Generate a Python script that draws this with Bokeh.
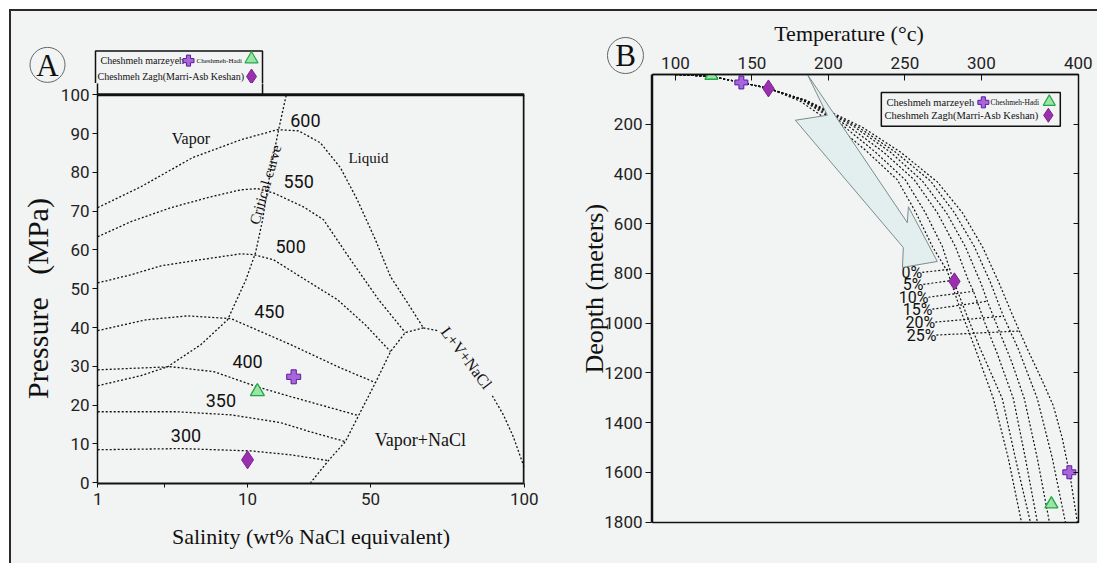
import numpy as np
from bokeh.plotting import figure
from bokeh.layouts import row, column
from bokeh.models import Range1d, FixedTicker, LinearAxis, Span, Spacer
from bokeh.core.properties import value
from bokeh.embed import file_html
from bokeh.resources import INLINE

BG = "#f2f3f3"
INK = "#111111"
SERIF = "Liberation Serif"
SANS = "Roboto"
PLUS_FILL, PLUS_LINE = "#a866dc", "#5b1d99"
TRI_FILL, TRI_LINE = "#9be3a8", "#22a843"
DIA_FILL, DIA_LINE = "#9a2fb0", "#7d2390"

# ---------------- Panel A : pressure vs salinity ----------------
salinity_ticks = [1, 5, 10, 50, 100]
salinity_tick_labels = ["1", "", "10", "50", "100"]
pressure_ticks = [0, 10, 20, 30, 40, 50, 60, 70, 80, 90, 100]

iso300_s = [1.0, 6.0, 11.0, 24.0, 36.3]
iso300_p = [8.5, 8.8, 8.2, 7.2, 5.7]
iso350_s = [1.0, 5.7, 9.0, 20.7, 30.5, 41.8]
iso350_p = [18.3, 18.3, 17.5, 15.5, 13.1, 10.6]
iso400_s = [1.0, 5.4, 8.0, 13.2, 24.0, 46.1]
iso400_p = [29.1, 29.9, 28.6, 24.7, 22.2, 17.3]
iso450_s = [1.0, 3.9, 6.4, 9.0, 24.0, 40.2, 51.6]
iso450_p = [39.2, 42.0, 43.0, 42.3, 35.6, 29.6, 25.8]
iso500_s = [1.0, 3.0, 4.8, 7.2, 9.6, 11.9, 18.4, 28.8, 39.2, 48.3, 56.5]
iso500_p = [51.5, 53.6, 55.9, 57.5, 59.0, 58.8, 57.5, 52.3, 47.2, 40.7, 33.8]
iso550_s = [1.0, 3.0, 5.4, 7.8, 9.6, 13.2, 18.4, 28.2, 34.7, 43.5, 52.6, 61.3]
iso550_p = [63.4, 67.3, 70.9, 73.7, 75.5, 75.8, 74.7, 71.1, 67.8, 57.5, 47.2, 38.7]
iso600_s = [1.0, 3.6, 6.7, 9.6, 19.7, 26.6, 33.7, 40.2, 45.7, 51.6, 56.5, 62.0, 67.2]
iso600_p = [70.9, 76.3, 83.8, 88.4, 91.0, 90.7, 87.6, 81.2, 72.9, 62.6, 53.1, 46.4, 39.9]
critical_s = [1.0, 3.6, 5.2, 7.2, 8.8, 9.9, 12.6, 14.9, 17.5, 20.1, 22.6]
critical_p = [25.0, 27.6, 29.9, 35.6, 42.0, 52.3, 59.3, 67.8, 80.7, 91.0, 100.0]
halite_s = [67.2, 61.3, 56.5, 51.6, 46.1, 41.8, 36.3, 30.5]
halite_p = [39.9, 38.7, 33.8, 25.8, 17.3, 10.6, 5.7, 0.0]
lvh_upper_s = [67.2, 71.8]
lvh_upper_p = [39.9, 39.2]
lvh_lower_s = [89.6, 93.2, 96.4, 100.0]
lvh_lower_p = [22.4, 17.5, 11.9, 3.9]

iso_label_text = ["600", "550", "500", "450", "400", "350", "300"]
iso_label_s = [28.8, 26.6, 24.0, 17.1, 10.0, 8.4, 6.3]
iso_label_p = [93.3, 77.6, 60.8, 44.1, 31.2, 21.1, 12.1]

a_plus_s, a_plus_p = [25.0], [27.3]          # Cheshmeh marzeyeh
a_tri_s, a_tri_p = [13.2], [23.5]            # Cheshmeh-Hadi
a_dia_s, a_dia_p = [10.0], [5.9]             # Cheshmeh Zagh

# ---------------- Panel B : depth vs temperature ----------------
temp_ticks = [100, 150, 200, 250, 300, 400]
depth_ticks = [200, 400, 600, 800, 1000, 1200, 1400, 1600, 1800]

c0_t = [100, 123.5, 143.1, 160.8, 181.7, 204.6, 224.2, 245.1, 256.9, 268.0, 277.8, 286.9, 296.1, 312.4, 327.8, 341.3]
c0_d = [0, 8, 32, 56, 108, 204, 304, 424, 552, 692, 792, 956, 1104, 1304, 1544, 1800]
c1_t = [100, 123.5, 143.1, 160.8, 183.0, 209.2, 230.7, 250.3, 263.4, 274.5, 281.7, 290.2, 299.3, 321.6, 335.1, 350.5]
c1_d = [0, 8, 32, 56, 104, 204, 312, 424, 556, 692, 828, 964, 1104, 1304, 1544, 1800]
c2_t = [100, 123.5, 143.1, 160.8, 183.7, 213.1, 236.0, 256.2, 271.2, 283.0, 291.5, 294.8, 304.1, 316.5, 333.0, 345.4, 357.7]
c2_d = [0, 8, 32, 56, 104, 208, 312, 424, 556, 692, 828, 872, 1004, 1124, 1304, 1544, 1800]
c3_t = [100, 123.5, 143.1, 160.8, 184.3, 216.3, 240.5, 261.4, 277.1, 289.5, 300.0, 306.2, 319.6, 330.9, 344.3, 357.7, 370.1]
c3_d = [0, 8, 32, 56, 104, 208, 312, 428, 556, 692, 844, 912, 1044, 1152, 1304, 1544, 1800]
c4_t = [100, 123.5, 143.1, 160.8, 185.0, 219.6, 243.8, 266.7, 282.4, 295.4, 309.3, 322.7, 338.1, 357.7, 373.2, 386.6]
c4_d = [0, 8, 32, 56, 104, 212, 312, 428, 556, 692, 836, 972, 1104, 1304, 1544, 1800]
c5_t = [100, 123.5, 143.1, 160.8, 185.6, 222.2, 247.1, 271.2, 287.6, 301.0, 317.5, 333.0, 347.4, 361.9, 374.2, 383.5, 391.8, 399.0]
c5_d = [0, 8, 32, 56, 104, 212, 312, 432, 556, 692, 832, 976, 1104, 1224, 1332, 1464, 1624, 1800]

pct_text = ["0%", "5%", "10%", "15%", "20%", "25%"]
pct_label_t = [261.4, 262.1, 265.4, 268.0, 269.9, 270.6]
pct_label_d = [796, 844, 896, 944, 996, 1048]
pct_end_t = [278.4, 281.7, 294.8, 306.2, 322.7, 338.1]
pct_end_d = [784, 828, 872, 912, 972, 1032]

arrow_t = [186.3, 251.6, 252.3, 271.2, 248.4, 249.0, 178.4, 199.3]
arrow_d = [0, 596, 532, 752, 776, 696, 184, 164]

b_tri_t, b_tri_d = [123.5, 372.2], [4, 1728]
b_plus_t, b_plus_d = [143.1, 390.7], [32, 1600]
b_dia_t, b_dia_d = [160.8, 282.4], [56, 832]

legend_row1 = ["Cheshmeh marzeyeh", "Cheshmeh-Hadi"]
legend_row2 = "Cheshmeh Zagh(Marri-Asb Keshan)"


def sal_u(s):
    s = np.asarray(s, dtype=float)
    return np.where(s <= 10, (s - 1) * 150 / 9, 150 + (s - 10) * 277 / 90)


def temp_u(t):
    t = np.asarray(t, dtype=float)
    return np.where(t <= 300, t, 300 + (t - 300) * 0.634)


def no_align(f):
    if "frame_align" in f.properties():
        f.frame_align = False
    return f


def style_axis(ax, size):
    ax.axis_line_color = INK
    ax.axis_line_width = 1.5
    ax.major_tick_line_color = INK
    ax.minor_tick_line_color = None
    ax.major_label_text_font = SANS
    ax.major_label_text_font_size = size
    ax.major_label_text_color = "#222222"
    ax.axis_label_text_font = SERIF
    ax.axis_label_text_font_style = "normal"
    ax.axis_label_text_color = INK


def bare(width, height, x_range, y_range):
    f = figure(width=width, height=height, x_range=x_range, y_range=y_range,
               x_axis_location=None, y_axis_location=None, output_backend="svg",
               toolbar_location=None, min_border_left=0, min_border_right=0,
               min_border_top=0, min_border_bottom=0, background_fill_color=BG,
               border_fill_color=BG, outline_line_color=None)
    f.grid.visible = False
    return no_align(f)


def stext(p, x, y, t, size, font=SERIF, align="left", angle=0.0):
    p.text(x=[x], y=[y], text=[t], text_font=value(font), text_font_size=size,
           text_align=align, text_baseline="middle", text_color=INK, angle=angle)


dash = dict(line_color=INK, line_width=1.3, line_dash="2 2")

# ================= panel A : strip above the frame =================
sa = bare(557, 72, Range1d(-86, 471), Range1d(102.9, 121.46))
sa.quad(left=[-2], right=[165], bottom=[100], top=[111.3], fill_color=BG, line_color=INK, line_width=1.5)
stext(sa, 3, 108.8, legend_row1[0], "10px")
sa.scatter([91], [108.8], marker="plus", size=11, fill_color=PLUS_FILL, line_color=PLUS_LINE)
stext(sa, 99, 108.6, legend_row1[1], "7px")
sa.scatter([154], [109.2], marker="triangle", size=13, fill_color=TRI_FILL, line_color=TRI_LINE, line_width=1.2)
stext(sa, 0, 104.7, legend_row2, "10px")
sa.scatter([154], [104.7], marker="diamond", size=15, fill_color=DIA_FILL, line_color=DIA_LINE)
sa.scatter([-50], [107.7], marker="circle", size=35, fill_color=None, line_color="#666666", line_width=1)
stext(sa, -50, 107.5, "A", "31px", align="center")

# ================= panel A : main frame =================
pa = figure(width=557, height=480, x_range=Range1d(-0.2, 427.2), y_range=Range1d(-0.2, 102.9),
            output_backend="svg", toolbar_location=None,
            min_border_left=86, min_border_right=44, min_border_top=0, min_border_bottom=80,
            background_fill_color=BG, border_fill_color=BG, outline_line_color=None)
pa.grid.visible = False
no_align(pa)

xa = pa.xaxis[0]
style_axis(xa, "17px")
xa.axis_line_width = 2
sal_tick_u = [round(float(v), 2) for v in sal_u(salinity_ticks)]
xa.ticker = FixedTicker(ticks=sal_tick_u)
xa.major_label_overrides = {u: lab for u, lab in zip(sal_tick_u, salinity_tick_labels)}
xa.major_tick_out = 4
xa.major_tick_in = 0
xa.major_label_standoff = 5
xa.axis_label = "Salinity (wt% NaCl equivalent)"
xa.axis_label_text_font_size = "22px"
xa.axis_label_standoff = 16

ya = pa.yaxis[0]
style_axis(ya, "17px")
ya.ticker = FixedTicker(ticks=pressure_ticks)
ya.major_tick_out = 5
ya.major_tick_in = 0
ya.major_label_standoff = 3
ya.axis_label = "Pressure\u00a0\u00a0\u00a0(MPa)\u00a0\u00a0\u00a0\u00a0"
ya.axis_label_text_font_size = "30px"
ya.axis_label_standoff = 4

# legend box sides continuing down to the frame top, then frame borders
pa.quad(left=[-2], right=[165], bottom=[100], top=[111.3], fill_color=BG, line_color=INK, line_width=1.5)
pa.add_layout(Span(location=100, dimension="width", line_color=INK, line_width=3))
pa.segment(x0=[427], y0=[0], x1=[427], y1=[100], line_color=INK, line_width=3)

for s, p in [(iso300_s, iso300_p), (iso350_s, iso350_p), (iso400_s, iso400_p),
             (iso450_s, iso450_p), (iso500_s, iso500_p), (iso550_s, iso550_p),
             (iso600_s, iso600_p), (critical_s, critical_p), (halite_s, halite_p),
             (lvh_upper_s, lvh_upper_p), (lvh_lower_s, lvh_lower_p)]:
    pa.line(sal_u(s), p, **dash)

pa.text(x=sal_u(iso_label_s), y=iso_label_p, text=iso_label_text, text_font=value(SANS),
        text_font_size="18px", text_align="center", text_baseline="middle", text_color=INK)

stext(pa, float(sal_u(6.6)), 88.7, "Vapor", "16px", align="center")
stext(pa, float(sal_u(49.3)), 83.8, "Liquid", "15px", align="center")
stext(pa, float(sal_u(66.2)), 11.1, "Vapor+NaCl", "18px", align="center")
stext(pa, float(sal_u(81.2)), 32.2, "L+V+NaCl", "16px", align="center", angle=np.deg2rad(-53))
stext(pa, float(sal_u(15.8)), 76.8, "Critical curve", "15px", align="center", angle=np.deg2rad(74))

pa.scatter(sal_u(a_plus_s), a_plus_p, marker="plus", size=14, fill_color=PLUS_FILL, line_color=PLUS_LINE, line_width=1)
pa.scatter(sal_u(a_tri_s), a_tri_p, marker="triangle", size=14, fill_color=TRI_FILL, line_color=TRI_LINE, line_width=1.3)
pa.scatter(sal_u(a_dia_s), a_dia_p, marker="diamond", size=18, fill_color=DIA_FILL, line_color=DIA_LINE, line_width=1)

col_a = column(sa, pa)

# ================= panel B : main frame =================
pb = figure(width=445, height=552, x_range=Range1d(85, 363.5), y_range=Range1d(1802, 0),
            x_axis_location="above", y_axis_location=None, output_backend="svg", toolbar_location=None,
            min_border_left=0, min_border_right=19, min_border_top=63, min_border_bottom=41,
            background_fill_color=BG, border_fill_color=BG,
            outline_line_color=INK, outline_line_width=1.5)
pb.grid.visible = False
no_align(pb)

xb = pb.xaxis[0]
style_axis(xb, "17px")
temp_tick_u = [round(float(v), 2) for v in temp_u(temp_ticks)]
xb.ticker = FixedTicker(ticks=temp_tick_u)
xb.major_label_overrides = {u: str(t) for u, t in zip(temp_tick_u, temp_ticks)}
xb.major_tick_in = 6
xb.major_tick_out = 0
xb.major_label_standoff = 6
xb.axis_label = "Temperature (\u00b0c)" + "\u00a0" * 6
xb.axis_label_text_font_size = "22px"
xb.axis_label_standoff = 8

rb = LinearAxis(ticker=FixedTicker(ticks=depth_ticks), major_tick_in=5, major_tick_out=0,
                major_label_overrides={t: "" for t in depth_ticks}, major_label_standoff=0,
                axis_line_color=None, major_tick_line_color=INK, minor_tick_line_color=None)
pb.add_layout(rb, "right")

bdash = dict(line_color=INK, line_width=1.2, line_dash="2 2")
for t, d in [(c0_t, c0_d), (c1_t, c1_d), (c2_t, c2_d), (c3_t, c3_d), (c4_t, c4_d), (c5_t, c5_d)]:
    pb.line(temp_u(t), d, **bdash)

for t0, d0, t1, d1 in zip(pct_label_t, pct_label_d, pct_end_t, pct_end_d):
    pb.line(temp_u([t0, t1]), [d0, d1], **bdash)

pb.text(x=temp_u(pct_label_t), y=pct_label_d, text=pct_text, text_font=value(SANS),
        text_font_size="16px", text_align="right", text_baseline="middle", text_color=INK)

pb.patch(temp_u(arrow_t), arrow_d, fill_color="#e3efee", line_color="#7d8b8b", line_width=1)

pb.scatter(temp_u(b_tri_t), b_tri_d, marker="triangle", size=13, fill_color=TRI_FILL, line_color=TRI_LINE, line_width=1.3)
pb.scatter(temp_u(b_plus_t), b_plus_d, marker="plus", size=13, fill_color=PLUS_FILL, line_color=PLUS_LINE, line_width=1)
pb.scatter(temp_u(b_dia_t), b_dia_d, marker="diamond", size=17, fill_color=DIA_FILL, line_color=DIA_LINE, line_width=1)

# legend box inside the frame (positions in axis units)
pb.quad(left=[234.6], right=[351.6], top=[72], bottom=[208], fill_color=BG, line_color=INK, line_width=1.5)
pb.text(x=[237.9, 305.9, 236.6], y=[112, 112, 164],
        text=[legend_row1[0], legend_row1[1], legend_row2],
        text_font=value(SERIF), text_font_size=["10.5px", "7.5px", "10.5px"],
        text_align="left", text_baseline="middle", text_color=INK)
pb.scatter([301.3], [112], marker="plus", size=11, fill_color=PLUS_FILL, line_color=PLUS_LINE)
pb.scatter([344.4], [110], marker="triangle", size=12, fill_color=TRI_FILL, line_color=TRI_LINE, line_width=1.2)
pb.scatter([343.8], [164], marker="diamond", size=14, fill_color=DIA_FILL, line_color=DIA_LINE)

# ================= panel B : depth axis strip and letter =================
sl = figure(width=84, height=489, x_range=Range1d(0, 1), y_range=pb.y_range,
            x_axis_location=None, output_backend="svg", toolbar_location=None,
            min_border_left=83, min_border_right=0, min_border_top=0, min_border_bottom=41,
            background_fill_color=BG, border_fill_color=BG, outline_line_color=None)
sl.grid.visible = False
no_align(sl)
yb = sl.yaxis[0]
style_axis(yb, "17px")
yb.ticker = FixedTicker(ticks=depth_ticks)
yb.major_tick_out = 6
yb.major_tick_in = 0
yb.major_label_standoff = 3
yb.axis_label = "\u00a0\u00a0\u00a0Deopth (meters)"
yb.axis_label_text_font_size = "26px"
yb.axis_label_standoff = -8

sb = bare(84, 63, Range1d(30.07, 84.97), Range1d(0, -252))
sb.scatter([67.3], [-76], marker="circle", size=36, fill_color=None, line_color="#666666", line_width=1)
stext(sb, 67.3, -77, "B", "31px", align="center")

col_b = column(sb, sl)

DARK = {"background-color": "#2a2a2a"}
WHITE = {"background-color": "#ffffff"}
layout = column(
    Spacer(width=1097, height=9, styles=WHITE),
    row(Spacer(width=9, height=2, styles=WHITE), Spacer(width=1088, height=2, styles=DARK)),
    row(Spacer(width=9, height=552, styles=WHITE), Spacer(width=2, height=552, styles=DARK),
        col_a, col_b, pb, styles={"background-color": BG}),
)
open("out.html", "w").write(file_html(layout, INLINE))
